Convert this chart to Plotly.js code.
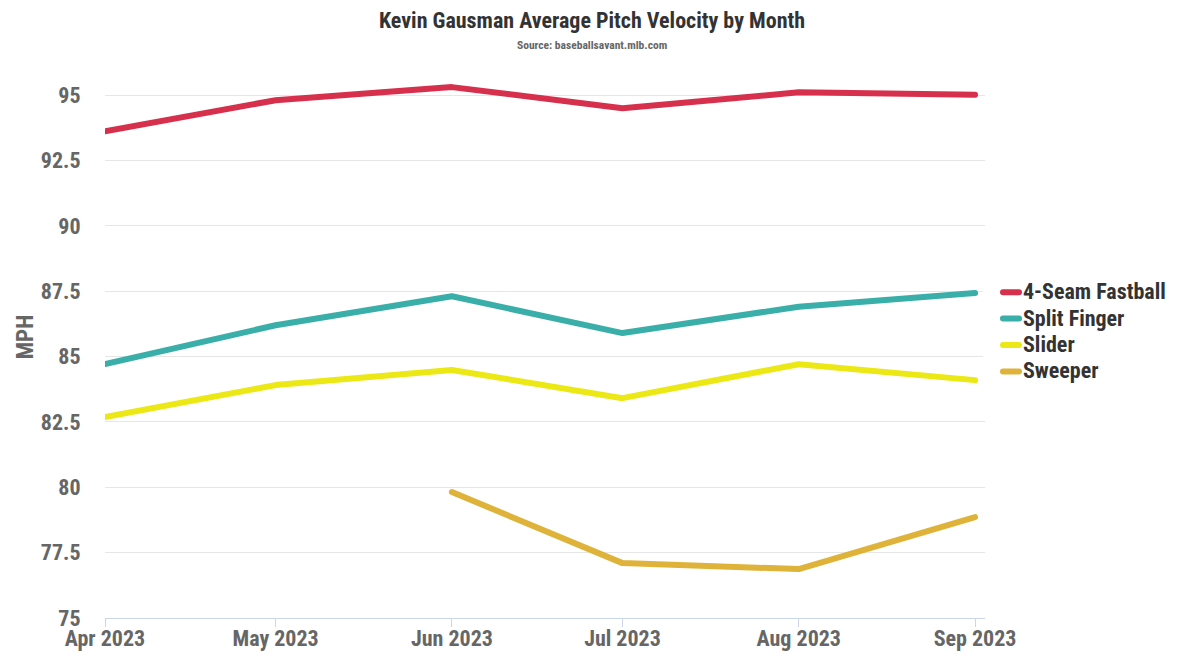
<!DOCTYPE html>
<html>
<head>
<meta charset="utf-8">
<script src="https://cdn.plot.ly/plotly-3.0.1.min.js"></script>
<style>html,body{margin:0;padding:0;background:#fff;}#chart{width:1184px;height:666px;}
#chart .scatterlayer .js-line{stroke-linecap:round;stroke-linejoin:round;}
#chart .legendlines path{d:path("M20,0h16");stroke-linecap:round;}</style>
</head>
<body>
<div id="chart"></div>
<script>
const months = ['2023-04-01','2023-05-01','2023-06-01','2023-07-01','2023-08-01','2023-09-01'];
const monthLabels = ['Apr 2023','May 2023','Jun 2023','Jul 2023','Aug 2023','Sep 2023'];
const fourSeam = [93.62, 94.81, 95.31, 94.50, 95.11, 95.02];
const splitFinger = [84.71, 86.20, 87.31, 85.90, 86.91, 87.43];
const slider = [82.69, 83.91, 84.49, 83.41, 84.71, 84.10];
const sweeper = [null, null, 79.82, 77.10, 76.87, 78.86];
const seriesNames = ['4-Seam Fastball','Split Finger','Slider','Sweeper'];
const colors = ['#d6304c','#3aaea8','#ebe816','#dfb33a'];
const yTicks = [75, 77.5, 80, 82.5, 85, 87.5, 90, 92.5, 95];

const FONT = '"Roboto Condensed", "Liberation Sans Narrow", "DejaVu Sans Condensed", Roboto, sans-serif';
const allVals = [fourSeam, splitFinger, slider, sweeper];
const traces = allVals.map((v, i) => ({
  x: months, y: v, type: 'scatter', mode: 'lines',
  name: '<span style="font-size:22px">' + seriesNames[i] + '</span>',
  line: {color: colors[i], width: 6}, connectgaps: false
}));

const layout = {
  width: 1184, height: 666,
  paper_bgcolor: '#fff', plot_bgcolor: '#fff',
  margin: {l: 105, r: 199, t: 56, b: 48},
  font: {family: FONT, size: 22, color: '#666', weight: 'bold'},
  title: {text: '<b>Kevin Gausman Average Pitch Velocity by Month</b>', x: 0.5, xref: 'container', xanchor: 'center',
          y: 1 - 20/666, yref: 'container', yanchor: 'middle',
          font: {family: FONT, size: 22, color: '#333'}},
  annotations: [{text: '<b>Source: baseballsavant.mlb.com</b>', xref: 'paper', yref: 'paper', x: (592-105)/880, y: 1, yshift: 11,
    xanchor: 'center', yanchor: 'middle', showarrow: false, font: {family: FONT, size: 11.5, color: '#666'}}],
  xaxis: {
    type: 'date', range: ['2023-04-01', '2023-09-02 18:00'],
    tickvals: months, ticktext: monthLabels,
    showgrid: false, showline: true, linecolor: '#ccd6eb', linewidth: 1,
    ticks: 'outside', ticklen: 1, tickcolor: 'rgba(0,0,0,0)', tickwidth: 1,
    minor: {tickvals: months, ticks: 'outside', ticklen: 8, tickcolor: '#ccd6eb', tickwidth: 1, showgrid: false},
    tickfont: {family: FONT, size: 22, color: '#666', weight: 'bold'}, zeroline: false
  },
  yaxis: {
    range: [75, 96.5], tickvals: yTicks, ticktext: yTicks.map(String),
    showgrid: true, gridcolor: '#e6e6e6', gridwidth: 1, zeroline: false, showline: false,
    ticks: 'outside', ticklen: 19, tickcolor: 'rgba(0,0,0,0)',
    tickfont: {family: FONT, size: 22, color: '#666', weight: 'bold'},
    title: {text: '<b>MPH</b>', font: {family: FONT, size: 23, color: '#666'}, standoff: 0}
  },
  legend: {x: (983-105)/880, xanchor: 'left', y: (618-332)/562, yanchor: 'middle',
           font: {family: FONT, size: 18, color: '#333', weight: 'bold'},
           itemwidth: 30, tracegroupgap: 0},
  showlegend: true
};
Plotly.newPlot('chart', traces, layout, {displayModeBar: false, responsive: false});
</script>
</body>
</html>
